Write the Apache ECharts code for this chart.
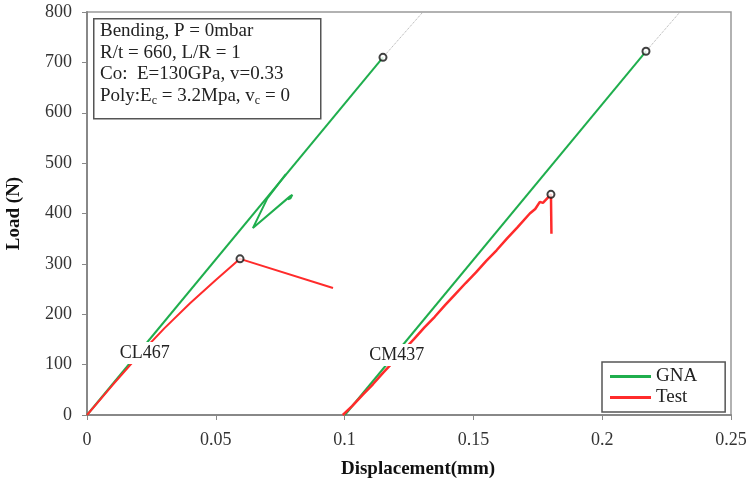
<!DOCTYPE html>
<html>
<head>
<meta charset="utf-8">
<script src="https://cdn.jsdelivr.net/npm/echarts@6/dist/echarts.min.js"></script>
<style>html,body{margin:0;padding:0;background:#fff}#c{width:752px;height:480px}</style>
</head>
<body>
<div id="c"></div>
<script>
// ---- data ----
var xTicks = [0, 0.05, 0.1, 0.15, 0.2, 0.25];
var yTicks = [0, 100, 200, 300, 400, 500, 600, 700, 800];
var gnaCL467 = [[0, 0], [0.1149, 710]];
var gnaCL467Branch = [[0.0772, 478], [0.0700, 430], [0.0644, 371], [0.0788, 434], [0.0797, 437], [0.0790, 430], [0.0780, 428]];
var gnaCM437 = [[0.1001, 0], [0.2170, 722]];
var testCL467 = [[0, 0], [0.01, 60], [0.02, 118], [0.03, 172], [0.04, 222], [0.05, 268], [0.0594, 310], [0.0955, 252]];
var testCM437 = [[0.0993, 0], [0.103, 18], [0.107, 40], [0.111, 61], [0.115, 84], [0.119, 106], [0.123, 129], [0.127, 151], [0.131, 174], [0.135, 195], [0.139, 218], [0.143, 240], [0.147, 262], [0.151, 283], [0.155, 306], [0.159, 327], [0.163, 350], [0.167, 372], [0.1719, 400], [0.1740, 409], [0.1758, 423], [0.1770, 421], [0.1801, 438], [0.1803, 360]];
var extCL467 = [[0.1149, 710], [0.1304, 800]];
var extCM437 = [[0.2170, 722], [0.2302, 800]];
var peaks = [[0.1149, 710], [0.0594, 310], [0.1801, 438], [0.2170, 722]];
var specimenNames = ['CL467', 'CM437'];
var specimenPos = [[0.0224, 123], [0.1202, 119]];

var SERIF = "'Liberation Serif', 'Times New Roman', serif";
var GREEN = '#1fae4d', RED = '#ff2b2b';

var chart = echarts.init(document.getElementById('c'));
function lineSeries(name, data, color, w) {
  return {name: name, type: 'line', data: data, showSymbol: false, symbol: 'none',
    lineStyle: {color: color, width: w || 2}, itemStyle: {color: color}, z: 3, silent: true, animation: false};
}
var graphics = [{
  type: 'rect', left: 93, top: 18, shape: {width: 227, height: 100},
  style: {fill: '#fff', stroke: '#555', lineWidth: 1.5}, z: 10
}, {
  type: 'text', left: 100, top: 22, z: 11,
  style: {
    text: '{a|Bending, P = 0mbar}\n{a|R/t = 660, L/R = 1}\n{a|Co:  E=130GPa, v=0.33}\n{a|Poly:E}{s|c}{a| = 3.2Mpa, v}{s|c}{a| = 0}',
    rich: {
      a: {fontFamily: SERIF, fontSize: 19, lineHeight: 21.5, fill: '#222'},
      s: {fontFamily: SERIF, fontSize: 12, lineHeight: 21.5, fill: '#222', padding: [9, 0, 0, 0]}
    }
  }
}];
chart.setOption({
  animation: false,
  backgroundColor: '#fff',
  grid: {left: 87, right: 21, top: 12, bottom: 65, show: true, borderColor: '#999', borderWidth: 1.5,
    containLabel: false, outerBoundsMode: 'none'},
  xAxis: {
    type: 'value', min: xTicks[0], max: xTicks[xTicks.length - 1], interval: 0.05,
    name: 'Displacement(mm)', nameLocation: 'middle', nameGap: 45,
    nameTextStyle: {fontFamily: SERIF, fontWeight: 'bold', fontSize: 19, color: '#111', padding: [0, 0, 0, 18]},
    axisLine: {lineStyle: {color: '#888', width: 2}},
    axisTick: {show: true, inside: false, length: 5, lineStyle: {color: '#888'}},
    axisLabel: {fontFamily: SERIF, fontSize: 18, color: '#333', margin: 16},
    splitLine: {show: false}
  },
  yAxis: {
    type: 'value', min: yTicks[0], max: yTicks[yTicks.length - 1], interval: 100,
    name: 'Load (N)', nameLocation: 'middle', nameGap: 63,
    nameTextStyle: {fontFamily: SERIF, fontWeight: 'bold', fontSize: 19, color: '#111'},
    axisLine: {lineStyle: {color: '#888', width: 2}},
    axisTick: {show: true, inside: false, length: 5, lineStyle: {color: '#888'}},
    axisLabel: {fontFamily: SERIF, fontSize: 18, color: '#333', margin: 15},
    splitLine: {show: false}
  },
  legend: {
    orient: 'vertical', left: 602, top: 362,
    data: ['GNA', 'Test'],
    icon: 'rect', itemWidth: 41, itemHeight: 3, itemGap: 2,
    padding: [5, 28, 5, 8],
    borderColor: '#555', borderWidth: 1.5, backgroundColor: '#fff',
    textStyle: {fontFamily: SERIF, fontSize: 19, color: '#222', lineHeight: 19},
    selectedMode: false
  },
  graphic: graphics,
  series: [
    lineSeries('GNA', gnaCL467, GREEN),
    lineSeries('GNA', gnaCL467Branch, GREEN),
    lineSeries('GNA', gnaCM437, GREEN),
    lineSeries('Test', testCL467, RED),
    lineSeries('Test', testCM437, RED, 2.5),
    {type: 'line', data: extCL467, symbol: 'none', lineStyle: {color: '#aaa', width: 1, type: 'dotted'}, z: 2},
    {type: 'line', data: extCM437, symbol: 'none', lineStyle: {color: '#aaa', width: 1, type: 'dotted'}, z: 2},
    {type: 'scatter', data: peaks, symbol: 'circle', symbolSize: 7, z: 6,
      itemStyle: {color: '#fff', borderColor: '#111', borderWidth: 2}}
  ]
});
// specimen labels placed through the chart's own coordinate system
var extra = specimenNames.map(function (n, i) {
  var p = chart.convertToPixel({gridIndex: 0}, specimenPos[i]);
  return {
    type: 'text', x: p[0], y: p[1], z: 20,
    style: {text: n, fontFamily: SERIF, fontSize: 18, fill: '#222', align: 'center', verticalAlign: 'middle',
      backgroundColor: '#fff', padding: [3, 2, 1, 2]}
  };
});
chart.setOption({graphic: graphics.concat(extra)});
</script>
</body>
</html>
